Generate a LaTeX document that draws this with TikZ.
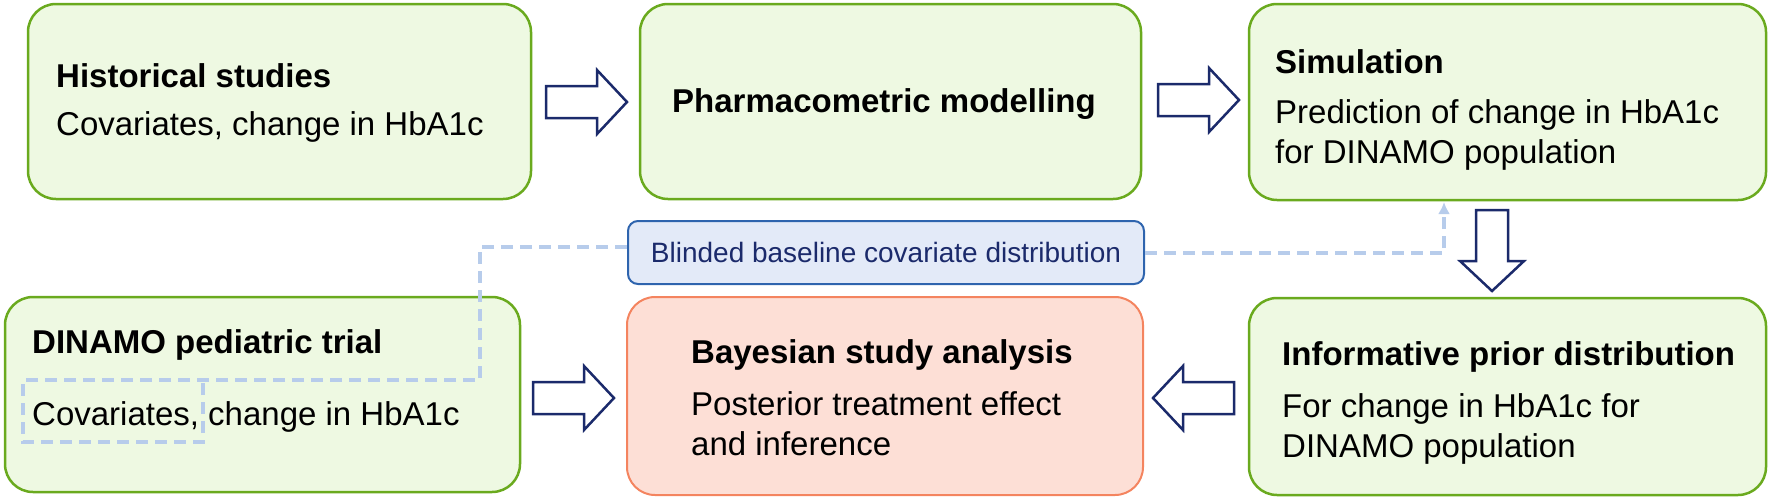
\documentclass[tikz,border=0pt]{standalone}
\usepackage{fontspec}
\setmainfont{Liberation Sans}
\usetikzlibrary{arrows.meta}
\definecolor{gfill}{HTML}{EEF9E2}
\definecolor{gline}{HTML}{6AAA1E}
\definecolor{rfill}{HTML}{FDDFD6}
\definecolor{rline}{HTML}{F4845F}
\definecolor{bfill}{HTML}{E3EAF8}
\definecolor{bline}{HTML}{2E64AE}
\definecolor{navy}{HTML}{1B2A6B}
\definecolor{dash}{HTML}{B7CCEB}
\begin{document}
\begin{tikzpicture}[x=1pt,y=-1pt,
  gbox/.style={draw=gline,fill=gfill,line width=2.5pt,rounded corners=28pt},
  rbox/.style={draw=rline,fill=rfill,line width=2pt,rounded corners=28pt},
  bbox/.style={draw=bline,fill=bfill,line width=2pt,rounded corners=10pt},
  txt/.style={anchor=base west,inner sep=0pt,font=\fontsize{33}{40}\selectfont},
  ttl/.style={anchor=base west,inner sep=0pt,font=\fontsize{33}{40}\selectfont\bfseries},
  dline/.style={draw=dash,line width=4pt,dash pattern=on 12pt off 7pt},
  blockarrow/.pic={\draw[navy,fill=white,line width=2.5pt,line join=miter]
     (0,-16) -- (51,-16) -- (51,-32) -- (81,0) -- (51,32) -- (51,16) -- (0,16) -- cycle;}]
\useasboundingbox (0,0) rectangle (1772,501);
% boxes
\draw[gbox] (28,4) rectangle (531,199) node[pos=0.5] (hist) {};
\draw[gbox] (640,4) rectangle (1141,199) node[pos=0.5] (pharm) {};
\draw[gbox] (1249,4) rectangle (1766,200) node[pos=0.5] (sim) {};
\draw[gbox] (5,297) rectangle (520,492) node[pos=0.5] (trial) {};
\draw[rbox] (627,297) rectangle (1143,495) node[pos=0.5] (bayes) {};
\draw[gbox] (1249,298) rectangle (1766,495) node[pos=0.5] (prior) {};
\node[bbox,minimum width=516pt,minimum height=63pt,anchor=north west,
  font=\fontsize{28}{32}\selectfont,text=navy] (blind) at (627,220) {Blinded baseline covariate distribution};
% texts
\node[ttl] (t1) at (56,87) {Historical studies};
\node[txt] (b1) at (56,135) {Covariates, change in HbA1c};
\node[ttl] (t2) at (672,112) {Pharmacometric modelling};
\node[ttl] (t3) at (1275,73) {Simulation};
\node[txt] (b3) at (1275,123) {Prediction of change in HbA1c};
\node[txt] (b3b) at (1275,163) {for DINAMO population};
\node[ttl] (t4) at (32,353) {DINAMO pediatric trial};
\node[txt] (b4) at (32,425) {Covariates, change in HbA1c};
\node[ttl] (t5) at (691,363) {Bayesian study analysis};
\node[txt] (b5) at (691,415) {Posterior treatment effect};
\node[txt] (b5b) at (691,455) {and inference};
\node[ttl] (t6) at (1282,365) {Informative prior distribution};
\node[txt] (b6) at (1282,417) {For change in HbA1c for};
\node[txt] (b6b) at (1282,457) {DINAMO population};
% block arrows
\pic at (546,102) {blockarrow};
\pic at (1158,100) {blockarrow};
\pic[rotate=-90] at (1492,210) {blockarrow};
\pic at (533,398) {blockarrow};
\pic[rotate=180] at (1234,398) {blockarrow};
% dashed
\coordinate (c1) at (480,247);
\coordinate (c2) at (480,380);
\draw[dline] (blind.west |- c1) -- (c1) -- (c2) -- (23,380) -- (23,442) -- (203,442) -- (203,380);
\coordinate (c3) at (1444,253);
\coordinate (c4) at (1444,202);
\draw[dline,-{Latex[length=12pt,width=12pt]}] (blind.east |- c3) -- (c3) -- (c4);
\end{tikzpicture}
\end{document}
